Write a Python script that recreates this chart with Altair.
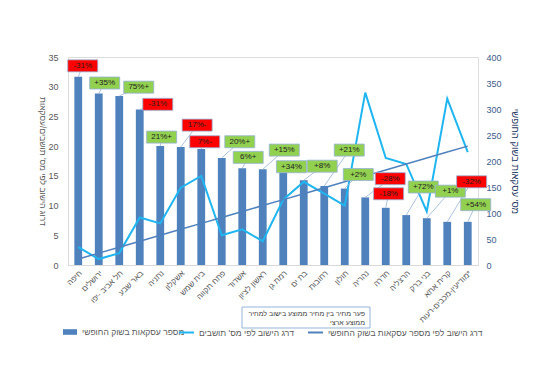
import altair as alt
import pandas as pd

# ---------------- data ----------------
cities = ["חיפה", "ירושלים", "תל אביב -יפו", "באר שבע", "נתניה", "אשקלון", "בית שמש",
          "פתח תקווה", "אשדוד", "ראשון לציון", "רמת גן", "בת ים", "רחובות", "חולון",
          "נהריה", "חדרה", "הרצליה", "בני ברק", "קרית אתא", "מודיעין-מכבים-רעות*"]
transactions = [362, 330, 325, 299, 229, 227, 223, 206, 186, 184,
                178, 163, 152, 147, 130, 110, 96, 90, 83, 83]
rank_residents = [3, 1, 2, 8, 7, 13, 15, 5, 6, 4, 11, 14, 12, 10, 29, 18, 17, 9, 28, 19]
rank_transactions = [1, 2, 3, 4, 5, 6, 7, 8, 9, 10, 11, 12, 13, 14, 15, 16, 17, 18, 19, 20]
price_gap = ["-31%", "+35%", "75%+", "-31%", "21%+", "17%-", "7%-", "20%+", "6%+", "+15%",
             "+34%", "+8%", "+21%", "+2%", "-28%", "-18%", "+72%", "+1%", "-32%", "+54%"]

# layout of the data-label boxes (bar-index units / right-axis units)
label_x = [0.72, 1.79, 3.45, 4.38, 4.57, 6.30, 6.67, 8.38, 8.79, 10.55,
           10.9, 12.4, 13.72, 14.16, 15.72, 15.64, 17.33, 18.65, 19.69, 19.89]
label_y = [383, 350, 342, 309, 246, 269, 237, 237, 207, 221,
           189, 190, 221, 174, 166, 137, 150, 142, 160, 116]

S_BARS = "מספר עסקאות בשוק החופשי"
S_RES = "דרג הישוב לפי מס' תושבים"
S_TRX = "דרג הישוב לפי מספר עסקאות בשוק החופשי"
LEFT_TITLE = "דרוג הישוב לפי מס' תושבים/עסקאות"
RIGHT_TITLE = "מס' עסקאות בשוק החופשי"
NOTE = ["פער מחיר בין מחיר ממוצע בישוב למחיר", "ממוצע ארצי"]

FONT = "Liberation Sans"
N = len(cities)

bars_df = pd.DataFrame({"city": cities, "transactions": transactions, "series": S_BARS})
lines_df = pd.concat([
    pd.DataFrame({"city": cities, "rank": rank_residents, "series": S_RES}),
    pd.DataFrame({"city": cities, "rank": rank_transactions, "series": S_TRX}),
])
labels_df = pd.DataFrame({
    "ci": [i + 0.5 for i in range(N)],
    "transactions": transactions,
    "gap": price_gap,
    "lx": label_x,
    "ly": label_y,
    "sign": ["neg" if "-" in g else "pos" for g in price_gap],
})

x_band = alt.X("city:N", sort=cities,
               scale=alt.Scale(paddingInner=0.62, paddingOuter=0.31),
               axis=alt.Axis(title=None, labelAngle=-45, labelFontSize=8, labelColor="#595959",
                             labelFont=FONT, domainColor="#D9D9D9", ticks=False, labelPadding=4,
                             labelLimit=200, labelAlign="right", labelBaseline="top"))

bars = alt.Chart(bars_df).mark_bar(color="#4F81BD").encode(
    x=x_band,
    y=alt.Y("transactions:Q", scale=alt.Scale(domain=[0, 400], nice=False),
            axis=alt.Axis(orient="right", values=list(range(0, 401, 50)), title=RIGHT_TITLE,
                          labelColor="#3E5C8A", labelFontSize=9, labelFont=FONT, labelPadding=8,
                          titleColor="#1F3864", titleFontSize=9.5, titleFont=FONT,
                          titleFontWeight="normal", titlePadding=8, domain=False, ticks=False,
                          grid=False)),
    color=alt.Color("series:N", scale=alt.Scale(domain=[S_BARS], range=["#4F81BD"]),
                    legend=alt.Legend(title=None, orient="none", legendX=-6, legendY=267,
                                      symbolType="M-1,-0.4H1V0.4H-1Z", symbolSize=196,
                                      labelFont=FONT, labelFontSize=8.5, labelColor="#595959",
                                      labelLimit=300)),
)

lines = alt.Chart(lines_df).mark_line().encode(
    x=x_band,
    y=alt.Y("rank:Q", scale=alt.Scale(domain=[0, 35], nice=False),
            axis=alt.Axis(orient="left", values=list(range(0, 36, 5)), title=LEFT_TITLE,
                          titleAngle=90, labelColor="#595959", labelFontSize=9, labelFont=FONT,
                          labelPadding=10, titleColor="#595959", titleFontSize=8.5,
                          titleFont=FONT, titleFontWeight="normal", titlePadding=10,
                          domain=False, ticks=False, grid=False)),
    color=alt.Color("series:N", scale=alt.Scale(domain=[S_RES, S_TRX],
                                                range=["#1FB5F0", "#4F81BD"]),
                    legend=alt.Legend(title=None, orient="none", direction="horizontal",
                                      legendX=110, legendY=267, symbolType="stroke",
                                      symbolSize=225, symbolStrokeWidth=2, columnPadding=10,
                                      labelFont=FONT, labelFontSize=8.5, labelColor="#595959",
                                      labelLimit=300)),
    strokeWidth=alt.StrokeWidth("series:N", scale=alt.Scale(domain=[S_RES, S_TRX],
                                                             range=[2, 1.5]), legend=None),
)

base = alt.layer(bars, lines).resolve_scale(y="independent", color="independent")

lx = alt.X("lx:Q", scale=alt.Scale(domain=[0, N], nice=False, zero=False), axis=None)
ly = alt.Y("ly:Q", scale=alt.Scale(domain=[0, 400], nice=False), axis=None)

leaders = alt.Chart(labels_df).mark_rule(color="#95B3D7", strokeWidth=0.8).encode(
    x=alt.X("ci:Q", scale=alt.Scale(domain=[0, N], nice=False, zero=False), axis=None),
    y=alt.Y("transactions:Q", scale=alt.Scale(domain=[0, 400], nice=False), axis=None),
    x2="lx:Q", y2="ly:Q",
)
boxes = alt.Chart(labels_df).mark_point(
    shape="M-1.25,-0.5H1.25V0.5H-1.25Z", filled=True, size=576, opacity=1,
    stroke="#95B3D7", strokeWidth=0.8,
).encode(
    x=lx, y=ly,
    fill=alt.Fill("sign:N", scale=alt.Scale(domain=["neg", "pos"], range=["#FF0000", "#92D050"]),
                  legend=None),
)
texts = alt.Chart(labels_df).mark_text(font=FONT, fontSize=8, color="#222222").encode(
    x=lx, y=ly, text="gap:N",
)

note_df = pd.DataFrame({"k": [0]})
note_box = alt.Chart(note_df).mark_rect(fill="white", stroke="#95B3D7", strokeWidth=1).encode(
    x=alt.value(174), x2=alt.value(302), y=alt.value(250), y2=alt.value(271),
)
note_text = alt.Chart(note_df).mark_text(
    text=NOTE, font=FONT, fontSize=7, color="#404040", align="right", baseline="top",
    lineHeight=9,
).encode(x=alt.value(297), y=alt.value(253))

labels = alt.layer(leaders, boxes, texts, note_box, note_text)

chart = alt.layer(base, labels).resolve_scale(
    x="independent", y="independent", color="independent", fill="independent"
).properties(
    width=410, height=208,
    autosize=alt.AutoSizeParams(type="none"),
    padding={"left": 60, "top": 49, "right": 68, "bottom": 94},
).configure_view(stroke=None).configure(font=FONT)

chart.save("out.html", embed_options={"renderer": "svg", "actions": False})
